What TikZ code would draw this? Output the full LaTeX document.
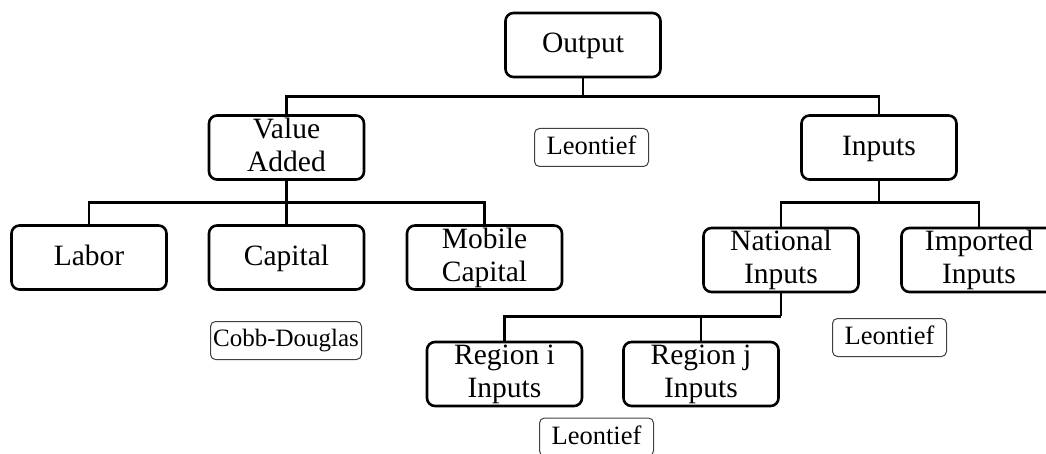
\documentclass[tikz,border=0pt]{standalone}
\usepackage{fontspec}
\setmainfont{Liberation Serif}
\newcommand{\mystrutA}{\rule[-6pt]{0pt}{28pt}}
\newcommand{\mystrutB}{\rule[-4pt]{0pt}{22pt}}
\begin{document}
\begin{tikzpicture}[x=1pt,y=1pt,
  bigbox/.style={draw, line width=2.6pt, rounded corners=8pt, minimum width=155pt, minimum height=64pt, align=center, font=\fontsize{29.5}{33}\selectfont, inner sep=0pt, execute at begin node={\mystrutA}, execute at end node={\mystrutA}},
  smallbox/.style={draw=black!75, line width=1pt, rounded corners=5pt, minimum height=38pt, font=\fontsize{26.5}{28}\selectfont, inner sep=0pt, execute at begin node={\mystrutB}},
  conn/.style={line width=2.6pt}]
\useasboundingbox (0,0) rectangle (1046,-454);
\node[bigbox] (out) at (583,-45) {Output};
\node[bigbox] (va) at (286.5,-147.5) {Value\\Added};
\node[bigbox] (inp) at (879,-147.5) {Inputs};
\node[bigbox] (lab) at (89,-257.5) {Labor};
\node[bigbox] (cap) at (286.5,-257.5) {Capital};
\node[bigbox] (mob) at (484.5,-257.5) {Mobile\\Capital};
\node[bigbox] (nat) at (781,-260) {National\\Inputs};
\node[bigbox] (imp) at (979,-260) {Imported\\Inputs};
\node[bigbox] (ri) at (504.5,-374) {Region i\\Inputs};
\node[bigbox] (rj) at (701,-374) {Region j\\Inputs};
\node[smallbox, minimum width=114pt] (l1) at (591.5,-147.5) {Leontief};
\node[smallbox, minimum width=151pt, font=\fontsize{25}{28}\selectfont] (cd) at (286,-340.5) {Cobb-Douglas};
\node[smallbox, minimum width=114pt] (l2) at (889.5,-337.5) {Leontief};
\node[smallbox, minimum width=114pt] (l3) at (596.5,-437) {Leontief};
\draw[conn] (out.south) -- ++(0,-18) coordinate (b1);
\draw[conn] (va.north) |- (b1) -| (inp.north);
\draw[conn] (va.south) -- ++(0,-22) coordinate (b2);
\draw[conn] (lab.north) |- (b2) -| (mob.north);
\draw[conn] (b2) -- (cap.north);
\draw[conn] (inp.south) -- ++(0,-22) coordinate (b3);
\draw[conn] (nat.north) |- (b3) -| (imp.north);
\draw[conn] (nat.south) -- ++(0,-23) coordinate (b4);
\draw[conn] (ri.north) |- (b4);
\draw[conn] (rj.north) -- (rj.north |- b4);
\end{tikzpicture}
\end{document}
